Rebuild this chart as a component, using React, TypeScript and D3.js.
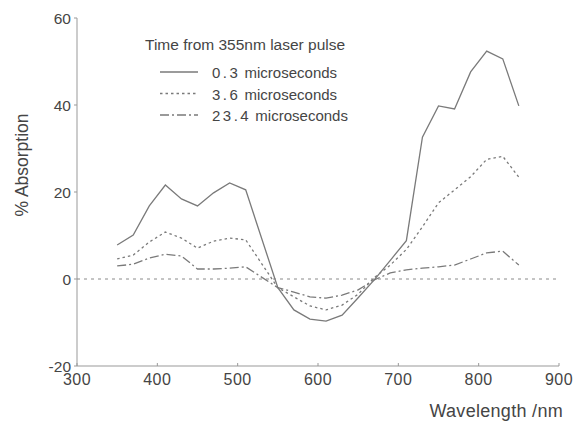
import React from "react";
import * as d3 from "d3";

// wavelengths (nm) at which the spectra were sampled
const wavelengths = [
  350, 370, 390, 410, 430, 450, 470, 490, 510, 550, 570, 590, 610, 630, 650,
  670, 690, 710, 730, 750, 770, 790, 810, 830, 850,
];

// % absorption for each delay after the laser pulse
const t03 = [
  7.8, 10.1, 16.8, 21.6, 18.4, 16.8, 19.8, 22.1, 20.5, -2, -7.1, -9.2, -9.7,
  -8.3, -4.3, -0.2, 4.3, 8.8, 32.6, 39.8, 39.1, 47.6, 52.4, 50.6, 39.8,
];
const t36 = [
  4.6, 5.5, 8.5, 10.8, 9.4, 7.1, 8.7, 9.4, 9.0, -2, -4.1, -6.2, -7.1, -6,
  -3.5, 0.3, 3.2, 6.8, 12, 17.5, 20.5, 23.5, 27.5, 28.2, 23.4,
];
const t234 = [
  3.0, 3.4, 4.8, 5.7, 5.3, 2.3, 2.3, 2.5, 2.8, -2, -3, -4.1, -4.4, -3.7, -2.5,
  -0.2, 1.4, 2.1, 2.5, 2.8, 3.2, 4.6, 6.0, 6.4, 3.2,
];

const seriesNames = ["0.3", "3.6", "23.4"];
const seriesValues = [t03, t36, t234];
const dashes = ["none", "2.5,3", "9,3,2,3"];

const xTicks = [300, 400, 500, 600, 700, 800, 900];
const yTicks = [-20, 0, 20, 40, 60];

const W = 576;
const H = 421;
const ink = "#7a7a7a";
const textInk = "#454545";
const font = "'Liberation Sans', Arial, Helvetica, sans-serif";

export default function App() {
  const x = d3.scaleLinear().domain([300, 900]).range([77, 559]);
  const y = d3.scaleLinear().domain([-20, 60]).range([366, 18]);

  const line = d3
    .line<number>()
    .x((_, i) => x(wavelengths[i]))
    .y((d) => y(d));

  return (
    <svg
      width={W}
      height={H}
      style={{ position: "absolute", left: 0, top: 0, background: "#fff" }}
      fontFamily={font}
    >
      {/* axes */}
      <line x1={x(300)} x2={x(300)} y1={y(60)} y2={y(-20)} stroke="#999" strokeWidth={1} />
      <line x1={x(300)} x2={x(900)} y1={y(-20)} y2={y(-20)} stroke="#999" strokeWidth={1} />
      {yTicks.map((t) => (
        <g key={"y" + t}>
          <line x1={x(300) - 3} x2={x(300)} y1={y(t)} y2={y(t)} stroke="#999" />
          <text x={71} y={y(t) + 6} textAnchor="end" fontSize={15.5} fill={textInk}>
            {t}
          </text>
        </g>
      ))}
      {xTicks.map((t) => (
        <g key={"x" + t}>
          <line x1={x(t)} x2={x(t)} y1={y(-20)} y2={y(-20) - 3} stroke="#999" />
          <text x={x(t)} y={385} textAnchor="middle" fontSize={16} fill={textInk} letterSpacing={0.5}>
            {t}
          </text>
        </g>
      ))}

      {/* zero line */}
      <line
        x1={x(300)}
        x2={x(900)}
        y1={y(0)}
        y2={y(0)}
        stroke="#8a8a8a"
        strokeDasharray="3,4"
        strokeWidth={1}
      />

      {/* spectra */}
      {seriesValues.map((vals, i) => (
        <path
          key={seriesNames[i]}
          d={line(vals) || ""}
          fill="none"
          stroke={ink}
          strokeWidth={1.3}
          strokeDasharray={dashes[i]}
        />
      ))}

      {/* axis titles */}
      <text
        transform="translate(28,165) rotate(-90)"
        textAnchor="middle"
        fontSize={17.5}
        fill={textInk}
      >
        % Absorption
      </text>
      <text x={563} y={417} textAnchor="end" fontSize={18} fill={textInk} letterSpacing={0.3}>
        Wavelength /nm
      </text>

      {/* legend */}
      <text x={145} y={50} fontSize={15.5} fill={textInk}>
        Time from 355nm laser pulse
      </text>
      {seriesNames.map((name, i) => {
        const ly = 72 + i * 21.5;
        return (
          <g key={"lg" + name}>
            <line
              x1={160}
              x2={198}
              y1={ly}
              y2={ly}
              stroke={ink}
              strokeWidth={1.3}
              strokeDasharray={dashes[i]}
            />
            <text x={212} y={ly + 6} fontSize={15} fill={textInk}>
              <tspan letterSpacing={2.5}>{name}</tspan> microseconds
            </text>
          </g>
        );
      })}
    </svg>
  );
}
